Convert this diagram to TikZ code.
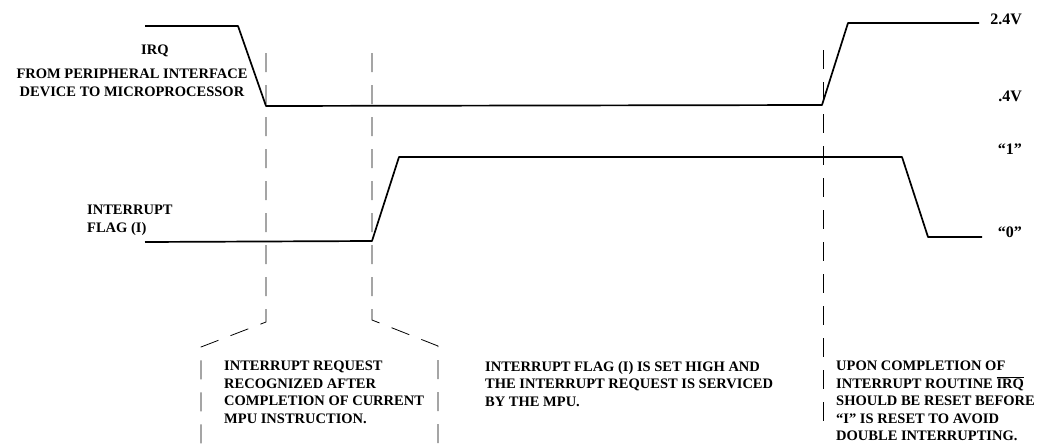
\documentclass[tikz,border=0pt]{standalone}
\usepackage{fontspec}
\setmainfont{Liberation Serif}
\begin{document}
\begin{tikzpicture}[x=1pt,y=-1pt,
  sig/.style={line width=1.7pt, line join=round},
  guide/.style={line width=0.8pt, dash pattern=on 19pt off 13pt},
  lbl/.style={font=\bfseries\fontsize{14.5}{17.5}\selectfont, align=left, inner sep=0pt, anchor=north west},
  toplbl/.style={font=\bfseries\fontsize{14.5}{18}\selectfont, align=center, inner sep=0pt},
  lvl/.style={font=\bfseries\fontsize{16}{18}\selectfont, inner sep=0pt, anchor=east}]
\useasboundingbox (0,0) rectangle (1040,447);
% IRQ signal
\coordinate (i0) at (145,26);
\coordinate (i1) at (238,26);
\coordinate (i2) at (266,106);
\coordinate (i3) at (822,105);
\coordinate (i4) at (848,23);
\coordinate (i5) at (979,23);
\draw[sig] (i0) -- (i1) -- (i2) -- (i3) -- (i4) -- (i5);
% Interrupt flag signal
\coordinate (f0) at (145,242);
\coordinate (f1) at (372,241);
\coordinate (f2) at (399,157);
\coordinate (f3) at (902,157);
\coordinate (f4) at (928,237);
\coordinate (f5) at (982,237);
\draw[sig] (f0) -- (f1) -- (f2) -- (f3) -- (f4) -- (f5);
% guide lines
\coordinate (a0) at (266,53);
\coordinate (a1) at (266,322);
\coordinate (a2) at (201,347);
\coordinate (a3) at (201,447);
\draw[guide] (a0) -- (a1) -- (a2) -- (a3);
\coordinate (b0) at (372,53);
\coordinate (b1) at (372,320);
\coordinate (b2) at (438,346);
\coordinate (b3) at (438,447);
\draw[guide] (b0) -- (b1) -- (b2) -- (b3);
\coordinate (c0) at (823,50);
\coordinate (c1) at (823,428);
\draw[guide] (c0) -- (c1);
% level labels
\node[lvl] (v24) at (1022,19) {2.4V};
\node[lvl] (v04) at (1022,96) {.4V};
\node[lvl] (one) at (1022,149) {``1''};
\node[lvl] (zero) at (1022,232) {``0''};
% signal labels
\node[toplbl, anchor=west] (irq) at (141,51) {IRQ};
\node[toplbl, anchor=north] (irqdesc) at (132,69) {FROM PERIPHERAL INTERFACE\\DEVICE TO MICROPROCESSOR};
\node[toplbl, align=left, anchor=north west] (flag) at (87,205) {INTERRUPT\\FLAG (I)};
% notes
\node[lbl] (n1) at (224,361) {INTERRUPT REQUEST\\RECOGNIZED AFTER\\COMPLETION OF CURRENT\\MPU INSTRUCTION.};
\node[lbl] (n2) at (485,361) {INTERRUPT FLAG (I) IS SET HIGH AND\\THE INTERRUPT REQUEST IS SERVICED\\BY THE MPU.};
\node[lbl] (n3) at (836,361) {UPON COMPLETION OF\\INTERRUPT ROUTINE $\overline{\hbox{IRQ}}$\\SHOULD BE RESET BEFORE\\``I'' IS RESET TO AVOID\\DOUBLE INTERRUPTING.};
\end{tikzpicture}
\end{document}
